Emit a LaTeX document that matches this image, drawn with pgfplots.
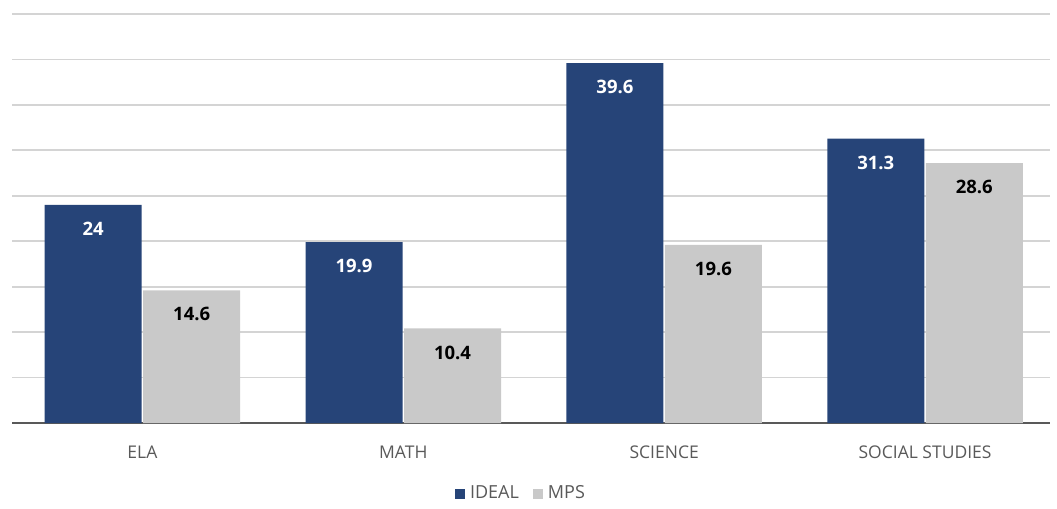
\documentclass[border=0pt]{standalone}
\usepackage{pgfplots}
\pgfplotsset{compat=1.18}
\usepackage{fontspec}
\setmainfont{Open Sans}
\definecolor{ideal}{HTML}{264478}
\definecolor{mps}{HTML}{C9C9C9}
\definecolor{gridc}{HTML}{D4D4D4}
\definecolor{axc}{HTML}{595959}
\begin{document}
\begin{tikzpicture}
\begin{axis}[
  scale only axis,
  width=1038pt, height=409pt,
  ybar=1.5pt, bar width=97pt,
  xmin=-0.5, xmax=3.479, ymin=0, ymax=45,
  xtick={0,1,2,3},
  xticklabels={ELA, MATH, SCIENCE, SOCIAL STUDIES},
  ytick={0,5,...,45}, yticklabels={},
  major tick length=0pt,
  ymajorgrids, grid style={gridc, line width=1.7pt},
  axis x line*=bottom, axis y line*=left,
  y axis line style={draw=none},
  x axis line style={axc, line width=2.6pt, -},
  tick label style={font=\fontsize{17.5}{20}\selectfont, text=axc},
  xticklabel style={yshift=-19pt},
  nodes near coords,
  /pgf/number format/fixed, /pgf/number format/precision=1,
  /pgf/number format/assume math mode=true,
  every node near coord/.append style={anchor=center, yshift=-24pt, font=\fontsize{18.5}{20}\selectfont\bfseries},
  legend style={at={(0.5,-0.171)}, anchor=center, xshift=-10pt, draw=none, fill=none,
    font=\fontsize{18}{20}\selectfont, text=axc, legend columns=2,
    /tikz/every even column/.append style={column sep=12pt}},
  legend image code/.code={\fill[#1] (0pt,-6pt) rectangle (10pt,4pt);},
]
\addplot[fill=ideal, draw=none, every node near coord/.append style={text=white}] coordinates {(0,24) (1,19.9) (2,39.6) (3,31.3)};
\addplot[fill=mps, draw=none, every node near coord/.append style={text=black}] coordinates {(0,14.6) (1,10.4) (2,19.6) (3,28.6)};
\legend{\hspace{3pt}IDEAL, \hspace{3pt}MPS}
\end{axis}
\path ([shift={(-12pt,-85pt)}]current axis.south west) rectangle ([shift={(7pt,14pt)}]current axis.north east);
\end{tikzpicture}
\end{document}
